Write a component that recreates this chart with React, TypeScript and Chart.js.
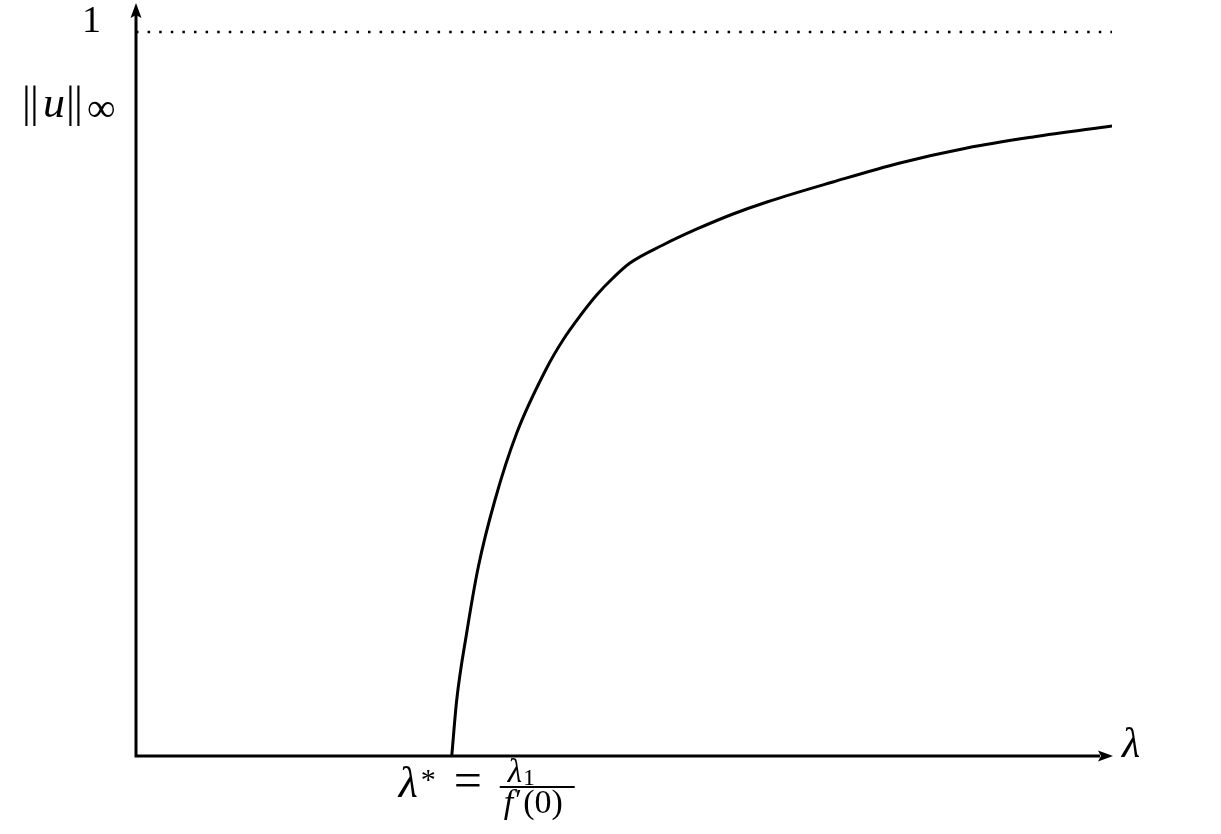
import React, { useEffect, useRef } from 'react';
import { Chart, registerables } from 'chart.js';

Chart.register(...registerables);

// Branch of solutions: lambda vs ||u||_inf
const LAMBDA = [3.235, 3.286, 3.388, 3.507, 3.678, 3.901, 4.208, 4.375, 4.549, 4.72, 4.887, 5.061, 5.399, 5.748, 6.117, 6.465, 7.141, 7.828, 8.514, 9.191, 10.0];
const NORM = [0, 0.0773, 0.1699, 0.261, 0.3536, 0.4461, 0.5359, 0.5746, 0.6077, 0.6367, 0.6602, 0.6809, 0.7058, 0.7279, 0.7486, 0.7652, 0.7928, 0.8191, 0.8398, 0.855, 0.8702];
const BOUND_X = [0, 10];
const BOUND_Y = [1, 1];
const X_RANGE = [0, 10];
const Y_RANGE = [0, 1.04];
const Y_TICK_LABELS = ['1'];
const LAMBDA_STAR = 3.235;

const SERIF = '"Liberation Serif", "DejaVu Serif", serif';

function arrowHead(ctx: CanvasRenderingContext2D, tx: number, ty: number, dir: 'up' | 'right') {
  const L = 15, W = 5.5, N = 12;
  ctx.save();
  ctx.translate(tx, ty);
  if (dir === 'up') ctx.rotate(-Math.PI / 2);
  ctx.beginPath();
  ctx.moveTo(0, 0);
  ctx.lineTo(-L, -W);
  ctx.lineTo(-N, 0);
  ctx.lineTo(-L, W);
  ctx.closePath();
  ctx.fillStyle = '#000';
  ctx.fill();
  ctx.restore();
}

const decorPlugin = {
  id: 'decor',
  afterDraw(chart: any) {
    const ctx: CanvasRenderingContext2D = chart.ctx;
    const xs = chart.scales.x, ys = chart.scales.y;
    const x0 = xs.getPixelForValue(X_RANGE[0]);
    const y0 = ys.getPixelForValue(0);
    const xEnd = xs.getPixelForValue(X_RANGE[1]);
    const yTop = ys.getPixelForValue(Y_RANGE[1]);
    ctx.save();
    ctx.strokeStyle = '#000';
    ctx.lineWidth = 3;
    ctx.lineCap = 'butt';
    ctx.beginPath();
    ctx.moveTo(x0, y0 + 1.5);
    ctx.lineTo(x0, yTop + 12);
    ctx.moveTo(x0, y0);
    ctx.lineTo(xEnd - 12, y0);
    ctx.stroke();
    arrowHead(ctx, x0, yTop, 'up');
    arrowHead(ctx, xEnd + 1, y0, 'right');

    ctx.fillStyle = '#000';
    ctx.textBaseline = 'alphabetic';

    // y tick label "1"
    const y1 = ys.getPixelForValue(1);
    ctx.font = `38px ${SERIF}`;
    ctx.textAlign = 'right';
    ctx.fillText(Y_TICK_LABELS[0], x0 - 35, y1);

    // ||u||_inf
    ctx.textAlign = 'left';
    const by = 117;
    ctx.font = `44px ${SERIF}`;
    ctx.fillText('|', 22, by);
    ctx.fillText('|', 30, by);
    ctx.font = `italic 44px ${SERIF}`;
    ctx.fillText('u', 43, by);
    ctx.font = `44px ${SERIF}`;
    ctx.fillText('|', 66, by);
    ctx.fillText('|', 74, by);
    ctx.font = `40px ${SERIF}`;
    ctx.fillText('∞', 87, by + 4);

    // lambda axis label
    ctx.font = `italic 42px ${SERIF}`;
    ctx.fillText('λ', xEnd + 10, y0 + 1);

    // lambda* = lambda_1 / f'(0)
    const ls = xs.getPixelForValue(LAMBDA_STAR);
    const lb = 797;
    ctx.font = `italic 44px ${SERIF}`;
    const lx = ls - 53;
    ctx.fillText('λ', lx, lb);
    const lw = ctx.measureText('λ').width;
    ctx.font = `30px ${SERIF}`;
    ctx.fillText('*', lx + lw + 3, lb - 8);
    ctx.font = `50px ${SERIF}`;
    ctx.fillText('=', ls + 2, lb);
    // fraction
    const fx0 = ls + 48, fx1 = ls + 123;
    ctx.lineWidth = 2.2;
    ctx.beginPath();
    ctx.moveTo(fx0, 787);
    ctx.lineTo(fx1, 787);
    ctx.stroke();
    ctx.font = `italic 33px ${SERIF}`;
    const nlx = ls + 56;
    ctx.fillText('λ', nlx, 782);
    const nlw = ctx.measureText('λ').width;
    ctx.font = `24px ${SERIF}`;
    ctx.fillText('1', nlx + nlw + 1, 785);
    ctx.font = `italic 34px ${SERIF}`;
    const fxs = ls + 52;
    ctx.fillText('f', fxs, 813);
    const fw = ctx.measureText('f').width;
    ctx.font = `30px ${SERIF}`;
    ctx.fillText('′', fxs + fw + 2, 809);
    ctx.font = `34px ${SERIF}`;
    ctx.fillText('(0)', fxs + fw + 10, 813);
    ctx.restore();
  },
};

export default function App() {
  const ref = useRef<HTMLCanvasElement | null>(null);
  useEffect(() => {
    if (!ref.current) return;
    const chart = new Chart(ref.current, {
      type: 'scatter',
      data: {
        datasets: [
          {
            label: 'bound',
            data: BOUND_X.map((x, i) => ({ x, y: BOUND_Y[i] })),
            showLine: true,
            borderColor: '#000',
            borderWidth: 2.5,
            borderDash: [2.5, 9.1],
            borderCapStyle: 'butt',
            pointRadius: 0,
          },
          {
            label: 'branch',
            data: LAMBDA.map((x, i) => ({ x, y: NORM[i] })),
            showLine: true,
            borderColor: '#000',
            borderWidth: 3,
            cubicInterpolationMode: 'monotone',
            pointRadius: 0,
          },
        ],
      },
      options: {
        animation: false,
        responsive: false,
        maintainAspectRatio: false,
        layout: { padding: { left: 136, right: 109, top: 3, bottom: 78 } },
        plugins: { legend: { display: false }, tooltip: { enabled: false } },
        scales: {
          x: { type: 'linear', min: X_RANGE[0], max: X_RANGE[1], display: false },
          y: { type: 'linear', min: Y_RANGE[0], max: Y_RANGE[1], display: false },
        },
      } as any,
      plugins: [decorPlugin],
    });
    return () => chart.destroy();
  }, []);
  return (
    <div style={{ position: 'absolute', left: 0, top: 0, width: 1221, height: 834, background: '#fff' }}>
      <canvas ref={ref} width={1221} height={834} style={{ width: 1221, height: 834 }} />
    </div>
  );
}
